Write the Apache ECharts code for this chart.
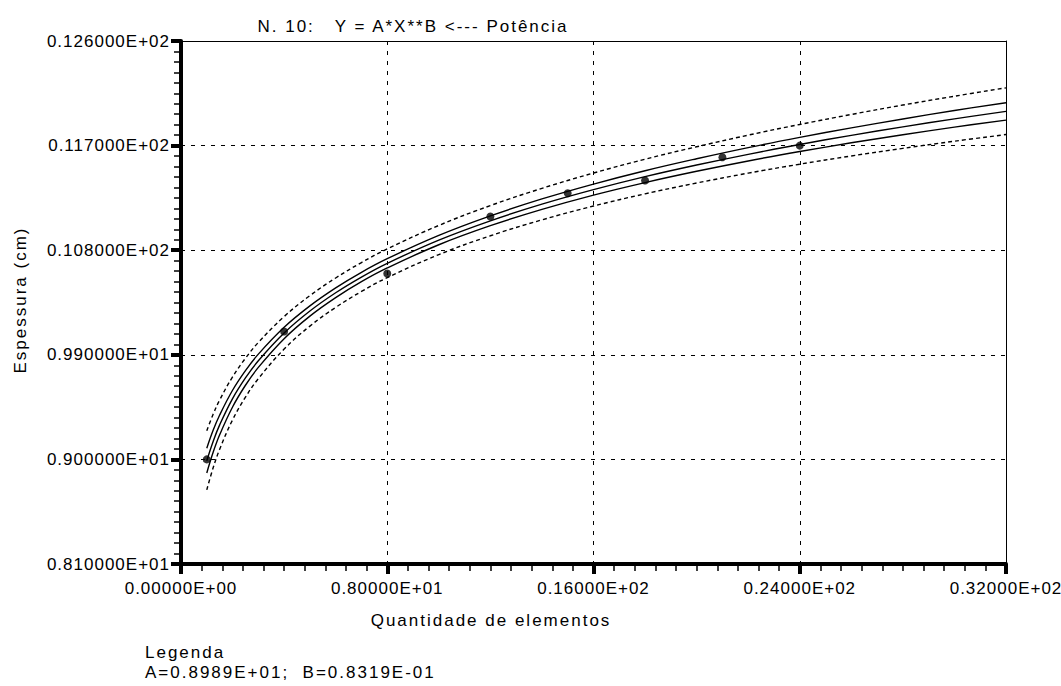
<!DOCTYPE html>
<html>
<head>
<meta charset="utf-8">
<script src="https://cdn.jsdelivr.net/npm/echarts@6/dist/echarts.min.js"></script>
<style>
  html, body { margin: 0; padding: 0; background: #fff; }
  #chart { width: 1061px; height: 686px; }
  #chart text { white-space: pre; letter-spacing: 1px; }
  #chart text[style*="sans-serif"] { letter-spacing: 2px; }
</style>
</head>
<body>
<div id="chart"></div>
<script>
// Power regression Y = A*X**B with its two pairs of bands
const xTicks = [0, 8, 16, 24, 32];
const xTickLabels = ['0.00000E+00', '0.80000E+01', '0.16000E+02', '0.24000E+02', '0.32000E+02'];
const yTicks = [8.1, 9.0, 9.9, 10.8, 11.7, 12.6];
const yTickLabels = ['0.810000E+01', '0.900000E+01', '0.990000E+01', '0.108000E+02', '0.117000E+02', '0.126000E+02'];

// observed points
const obsX = [1, 4, 8, 12, 15, 18, 21, 24];
const obsY = [9.00, 10.10, 10.60, 11.09, 11.29, 11.40, 11.60, 11.70];

// curves, sampled along X
const curveX      = [1, 1.25, 1.5, 2, 2.5, 3, 4, 5, 6, 7, 8, 10, 12, 14, 16, 18, 20, 22, 24, 26, 28, 30, 32];
const fitY        = [8.989, 9.157, 9.297, 9.523, 9.701, 9.849, 10.088, 10.277, 10.434, 10.569, 10.687, 10.887, 11.053, 11.196, 11.321, 11.433, 11.533, 11.625, 11.710, 11.788, 11.861, 11.930, 11.994];
const upperInner  = [9.096, 9.252, 9.382, 9.595, 9.764, 9.906, 10.137, 10.321, 10.476, 10.610, 10.727, 10.927, 11.095, 11.241, 11.369, 11.484, 11.587, 11.683, 11.771, 11.853, 11.929, 12.002, 12.069];
const lowerInner  = [8.883, 9.063, 9.212, 9.451, 9.638, 9.792, 10.039, 10.233, 10.392, 10.529, 10.647, 10.847, 11.011, 11.151, 11.274, 11.382, 11.479, 11.568, 11.649, 11.724, 11.793, 11.859, 11.919];
const upperOuter  = [9.247, 9.390, 9.511, 9.710, 9.870, 10.006, 10.229, 10.409, 10.561, 10.694, 10.811, 11.013, 11.184, 11.332, 11.464, 11.583, 11.690, 11.790, 11.882, 11.968, 12.049, 12.125, 12.197];
const lowerOuter  = [8.738, 8.930, 9.088, 9.340, 9.535, 9.695, 9.949, 10.147, 10.308, 10.445, 10.564, 10.762, 10.924, 11.061, 11.180, 11.285, 11.378, 11.463, 11.540, 11.611, 11.676, 11.738, 11.795];

const titleText = 'N. 10:   Y = A*X**B <--- Potência';
const xName = 'Quantidade de elementos';
const yName = 'Espessura (cm)';
const legendTitle = 'Legenda';
const legendLine = 'A=0.8989E+01;  B=0.8319E-01';

const tickFont = 'Liberation Sans';
const textFont = 'Liberation Sans, sans-serif';

function pairs(xs, ys) { return xs.map((x, i) => [x, ys[i]]); }
function labelFor(ticks, labels) {
  return function (v) {
    let best = 0;
    for (let i = 1; i < ticks.length; i++) {
      if (Math.abs(ticks[i] - v) < Math.abs(ticks[best] - v)) best = i;
    }
    return labels[best];
  };
}

function curve(ys, dashed) {
  return {
    type: 'line',
    data: pairs(curveX, ys),
    smooth: 0.4,
    showSymbol: false,
    symbol: 'none',
    silent: true,
    lineStyle: { color: '#000', width: 1.4, type: dashed ? [4, 3] : 'solid' },
    z: 3
  };
}

// bold main axes with outward major and minor ticks
function mainAxis(extra) {
  return Object.assign({
    type: 'value',
    axisLine: { show: true, onZero: false, lineStyle: { color: '#000', width: 4 } },
    axisTick: { show: true, inside: false, length: 10, lineStyle: { color: '#000', width: 4 } },
    minorTick: { show: true, splitNumber: 10, length: 7, lineStyle: { color: '#000', width: 1.5 } },
    splitLine: { show: true, lineStyle: { color: '#000', width: 1, type: [4, 6] } },
    z: 10
  }, extra);
}
// thin frame on the opposite sides
function frameAxis(extra) {
  return Object.assign({
    type: 'value',
    axisLine: { show: true, onZero: false, lineStyle: { color: '#000', width: 1 } },
    axisTick: { show: false },
    axisLabel: { show: false },
    splitLine: { show: false }
  }, extra);
}

const chart = echarts.init(document.getElementById('chart'), null, { renderer: 'svg' });
chart.setOption({
  animation: false,
  backgroundColor: '#fff',
  grid: { left: 181, right: 55, top: 41, bottom: 122, show: false },
  xAxis: [
    mainAxis({
      position: 'bottom', min: 0, max: 32, interval: 8,
      axisLabel: {
        formatter: labelFor(xTicks, xTickLabels), margin: 16,
        color: '#000', fontSize: 17, fontFamily: tickFont
      }
    }),
    frameAxis({ position: 'top', min: 0, max: 32 })
  ],
  yAxis: [
    mainAxis({
      position: 'left', min: 8.1, max: 12.6, interval: 0.9,
      axisLabel: {
        formatter: labelFor(yTicks, yTickLabels), margin: 11,
        color: '#000', fontSize: 17, fontFamily: tickFont
      }
    }),
    frameAxis({ position: 'right', min: 8.1, max: 12.6 })
  ],
  series: [
    curve(upperOuter, true),
    curve(upperInner, false),
    curve(fitY, false),
    curve(lowerInner, false),
    curve(lowerOuter, true),
    {
      type: 'scatter',
      data: pairs(obsX, obsY),
      symbol: 'circle',
      symbolSize: 8,
      itemStyle: { color: '#000' },
      z: 5
    }
  ],
  graphic: [
    { type: 'text', x: 413, y: 26, style: { text: titleText, font: '17px ' + textFont, fill: '#000', align: 'center', verticalAlign: 'middle' } },
    { type: 'text', x: 491, y: 620, style: { text: xName, font: '17px ' + textFont, fill: '#000', align: 'center', verticalAlign: 'middle' } },
    { type: 'text', x: 20, y: 300, rotation: Math.PI / 2, style: { text: yName, font: '17px ' + textFont, fill: '#000', align: 'center', verticalAlign: 'middle' } },
    { type: 'text', x: 145, y: 652, style: { text: legendTitle, font: '17px ' + textFont, fill: '#000', align: 'left', verticalAlign: 'middle' } },
    { type: 'text', x: 145, y: 672, style: { text: legendLine, font: '17px ' + textFont, fill: '#000', align: 'left', verticalAlign: 'middle' } }
  ]
});
</script>
</body>
</html>
